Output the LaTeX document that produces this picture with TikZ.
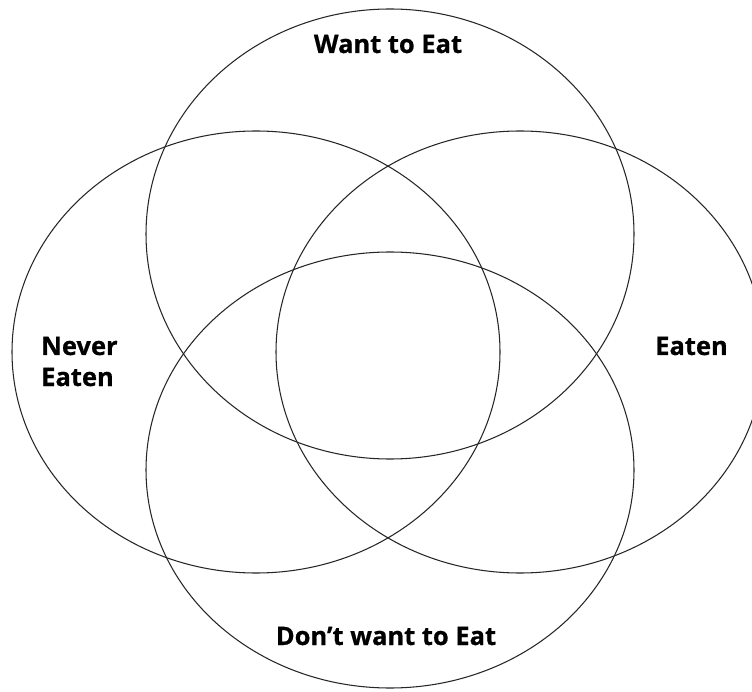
\documentclass[tikz,border=0pt]{standalone}
\usepackage{fontspec}
\setmainfont{Open Sans}[BoldFeatures={FakeBold=0.6}]
\begin{document}
\begin{tikzpicture}[x=1pt,y=-1pt,
  ring/.style={draw=black!85, line width=1.05pt},
  lab/.style={font=\fontsize{25.5}{31}\selectfont\bfseries, inner sep=0pt, text=black}]
\useasboundingbox (0,0) rectangle (752,692);
\clip (0,0) rectangle (752,692);
\fill[white] (0,0) rectangle (752,692);
% circles
\draw[ring] (390,234) ellipse [x radius=244pt, y radius=225pt];
\draw[ring] (390,470) ellipse [x radius=244pt, y radius=218pt];
\draw[ring] (256,352) ellipse [x radius=244pt, y radius=221pt];
\draw[ring] (520,352) ellipse [x radius=244pt, y radius=221pt];
% labels
\node[lab, anchor=base] (want) at (388,53) {Want to Eat};
\node[lab, anchor=base] (dont) at (386,645) {Don’t want to Eat};
\node[lab, anchor=base west] (eaten) at (655,355) {Eaten};
\node[lab, anchor=base west] (never1) at (41,355) {Never};
\node[lab, anchor=base west] (never2) at (41,386) {Eaten};
\end{tikzpicture}
\end{document}
